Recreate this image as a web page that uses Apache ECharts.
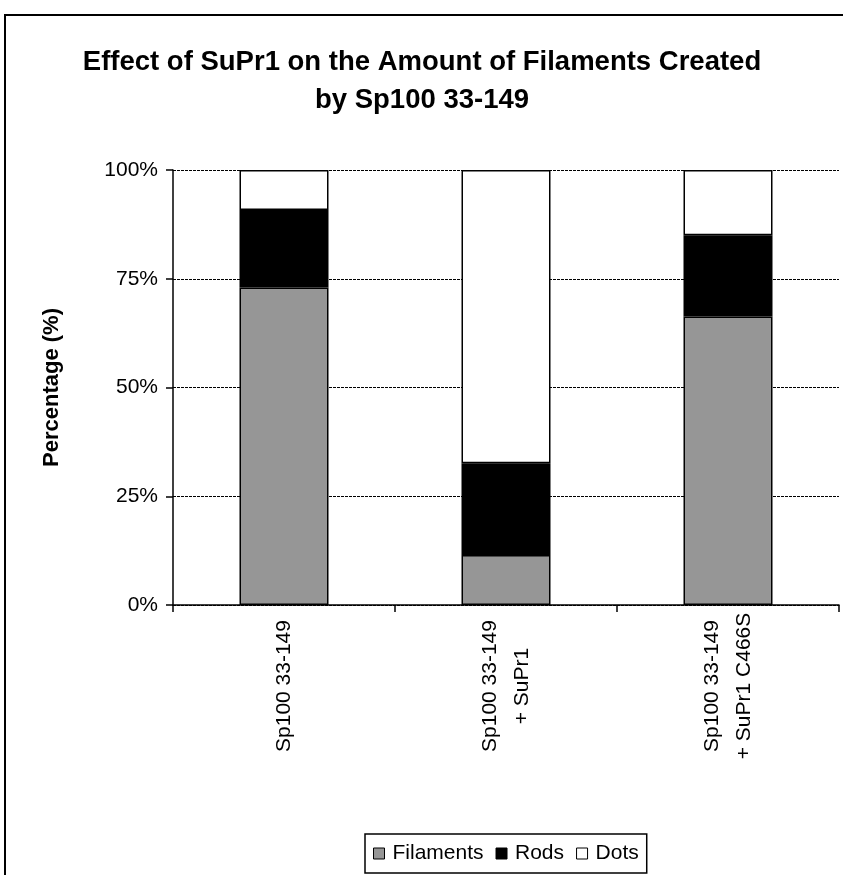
<!DOCTYPE html>
<html>
<head>
<meta charset="utf-8">
<script src="https://cdn.jsdelivr.net/npm/echarts@6/dist/echarts.min.js"></script>
<style>
  html, body { margin: 0; padding: 0; background: #fff; }
  #chart { width: 843px; height: 875px; }
</style>
</head>
<body>
<div id="chart"></div>
<script>
// Constructs shown on the x axis
const categories = ['Sp100 33-149', 'Sp100 33-149\n+ SuPr1', 'Sp100 33-149\n+ SuPr1 C466S'];

// Share of each structure type (percent of total, per construct)
const filaments = [73.0, 11.5, 66.3];
const rods = [17.8, 21.1, 18.7];
const dots = [9.2, 67.4, 15.0];

const yTicks = [0, 25, 50, 75, 100];

const FONT = '"Liberation Sans", Arial, sans-serif';

const chart = echarts.init(document.getElementById('chart'), null, { renderer: 'canvas' });

const barBorder = { borderColor: '#000', borderWidth: 1.5 };

chart.setOption({
  backgroundColor: '#fff',
  animation: false,
  textStyle: { fontFamily: FONT, color: '#000' },
  graphic: [{
    type: 'rect',
    shape: { x: 5, y: 15, width: 900, height: 950 },
    style: { fill: 'none', stroke: '#000', lineWidth: 2 },
    silent: true,
    z: -1
  }],
  title: {
    text: 'Effect of SuPr1 on the Amount of Filaments Created\nby Sp100 33-149',
    left: 417,
    top: 38,
    textAlign: 'center',
    textStyle: { fontFamily: FONT, fontSize: 27.5, fontWeight: 'bold', color: '#000', lineHeight: 38 }
  },
  legend: {
    left: 365,
    top: 834,
    orient: 'horizontal',
    itemWidth: 11,
    itemHeight: 11,
    itemGap: 12,
    padding: [9, 8, 9, 8],
    borderColor: '#000',
    borderWidth: 1.5,
    icon: 'rect',
    itemStyle: { borderColor: '#000', borderWidth: 1 },
    textStyle: { fontFamily: FONT, fontSize: 21, color: '#000', padding: [0, 0, 0, 3] },
    data: ['Filaments', 'Rods', 'Dots']
  },
  grid: { left: 173, right: 4, top: 170, bottom: 270, containLabel: false },
  xAxis: {
    type: 'category',
    data: categories,
    boundaryGap: true,
    axisLine: { show: true, lineStyle: { color: '#000', width: 1.5 } },
    axisTick: { show: true, length: 7, lineStyle: { color: '#000', width: 1.5 } },
    axisLabel: {
      rotate: 90,
      interval: 0,
      margin: 81,
      align: 'center',
      verticalAlign: 'middle',
      fontFamily: FONT,
      fontSize: 21,
      lineHeight: 32,
      color: '#000'
    },
    splitLine: { show: false }
  },
  yAxis: {
    type: 'value',
    min: yTicks[0],
    max: yTicks[yTicks.length - 1],
    interval: 25,
    name: 'Percentage (%)',
    nameLocation: 'middle',
    nameRotate: 90,
    nameGap: 110,
    nameTextStyle: { fontFamily: FONT, fontSize: 22, fontWeight: 'bold', color: '#000' },
    axisLine: { show: true, lineStyle: { color: '#000', width: 1.5 } },
    axisTick: { show: true, length: 7, lineStyle: { color: '#000', width: 1.5 } },
    axisLabel: {
      margin: 15,
      formatter: '{value}%',
      fontFamily: FONT,
      fontSize: 21,
      color: '#000'
    },
    splitLine: { show: true, lineStyle: { color: '#000', width: 1, type: [3, 1] } }
  },
  series: [
    {
      name: 'Filaments', type: 'bar', stack: 'total', barWidth: 89,
      data: filaments,
      itemStyle: Object.assign({ color: '#969696' }, barBorder)
    },
    {
      name: 'Rods', type: 'bar', stack: 'total', barWidth: 89,
      data: rods,
      itemStyle: Object.assign({ color: '#000000' }, barBorder)
    },
    {
      name: 'Dots', type: 'bar', stack: 'total', barWidth: 89,
      data: dots,
      itemStyle: Object.assign({ color: '#ffffff' }, barBorder)
    }
  ]
});
</script>
</body>
</html>
